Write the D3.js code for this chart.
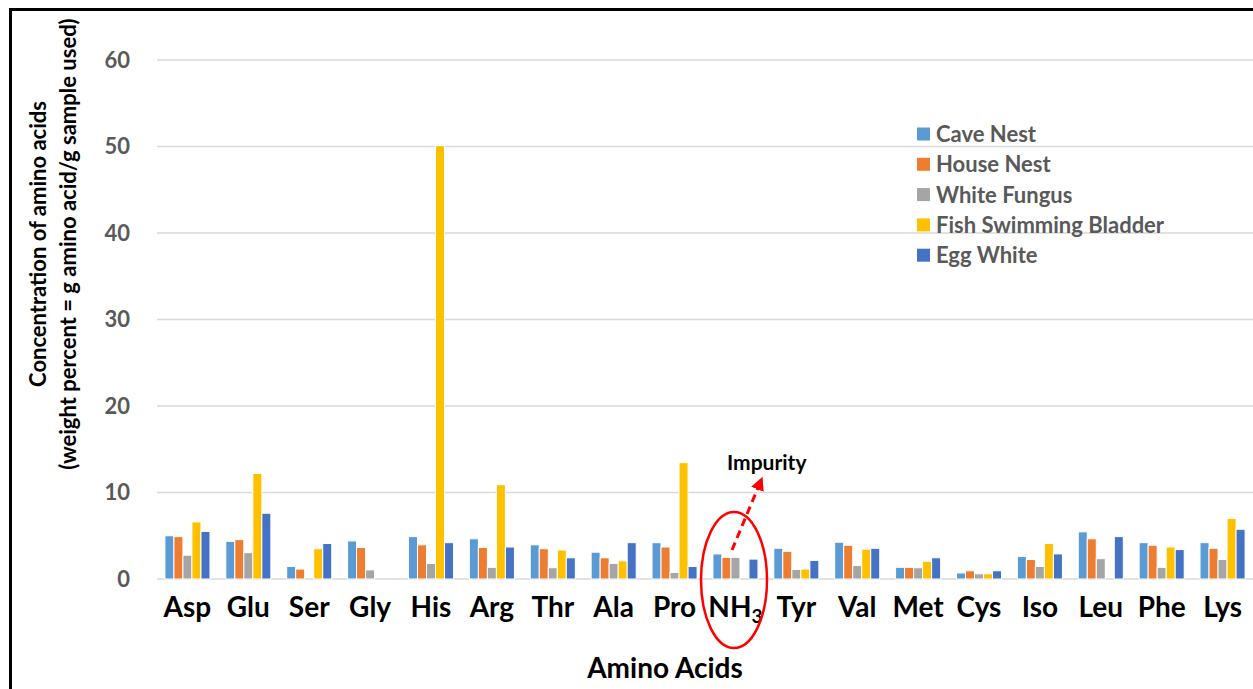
<!DOCTYPE html>
<html>
<head>
<meta charset="utf-8">
<script src="https://cdn.jsdelivr.net/npm/d3@7"></script>
<style>
  body { margin: 0; background: #fff; }
  svg { display: block; font-family: Lato, 'Open Sans', sans-serif; font-weight: bold; }
</style>
</head>
<body>
<svg width="1253" height="689"></svg>
<script>
(function (d3) {
    'use strict';

    var categories = ['Asp', 'Glu', 'Ser', 'Gly', 'His', 'Arg', 'Thr', 'Ala', 'Pro', 'NH3',
        'Tyr', 'Val', 'Met', 'Cys', 'Iso', 'Leu', 'Phe', 'Lys'];
    var seriesNames = ['Cave Nest', 'House Nest', 'White Fungus', 'Fish Swimming Bladder', 'Egg White'];
    var caveNest = [5.0, 4.35, 1.45, 4.4, 4.9, 4.65, 3.95, 3.1, 4.2, 2.9, 3.55, 4.25, 1.35, 0.7, 2.6, 5.45, 4.2, 4.2];
    var houseNest = [4.9, 4.55, 1.15, 3.65, 3.95, 3.65, 3.5, 2.45, 3.7, 2.5, 3.2, 3.9, 1.35, 0.95, 2.25, 4.65, 3.9, 3.55];
    var whiteFungus = [2.75, 3.05, 0, 1.05, 1.8, 1.35, 1.3, 1.8, 0.75, 2.5, 1.1, 1.55, 1.3, 0.6, 1.45, 2.35, 1.35, 2.25];
    var fishBladder = [6.6, 12.2, 3.5, 0, 50.1, 10.9, 3.35, 2.1, 13.45, 0, 1.15, 3.45, 2.05, 0.6, 4.1, 0, 3.7, 7.0];
    var eggWhite = [5.5, 7.6, 4.1, 0, 4.2, 3.7, 2.45, 4.2, 1.45, 2.3, 2.15, 3.55, 2.45, 0.95, 2.9, 4.9, 3.4, 5.75];
    var yTicks = [0, 10, 20, 30, 40, 50, 60];

    var colors = ['#5B9BD5', '#ED7D31', '#A5A5A5', '#FFC000', '#4472C4'];
    var allSeries = [caveNest, houseNest, whiteFungus, fishBladder, eggWhite];

    var svg = d3.select('svg');

    var x0 = d3.scaleBand().domain(categories).range([157, 1253])
        .paddingInner(0.26).paddingOuter(0.13);
    var x1 = d3.scaleBand().domain(seriesNames).range([0, x0.bandwidth()]);
    var y = d3.scaleLinear().domain([0, 60]).range([579, 60]);
    var z = d3.scaleOrdinal().domain(seriesNames).range(colors);

    // frame, top and left only
    svg.append('path')
        .attr('d', 'M10.5,689V9.5H1253')
        .attr('fill', 'none')
        .attr('stroke', '#000')
        .attr('stroke-width', 3);

    // gridlines
    svg.append('g').selectAll('line')
        .data(yTicks)
        .enter().append('line')
        .attr('x1', 157).attr('x2', 1253)
        .attr('y1', function (d) { return y(d); })
        .attr('y2', function (d) { return y(d); })
        .attr('stroke', '#d9d9d9')
        .attr('stroke-width', 1.5);

    svg.append('g').selectAll('text')
        .data(yTicks)
        .enter().append('text')
        .attr('x', 130)
        .attr('y', function (d) { return y(d); })
        .attr('dy', '0.36em')
        .attr('text-anchor', 'end')
        .attr('fill', '#595959')
        .style('font-size', '22px')
        .text(function (d) { return d; });

    // bars
    var rows = categories.map(function (c, i) {
        return seriesNames.map(function (s, j) {
            return { cat: c, key: s, value: allSeries[j][i] };
        });
    });

    svg.append('g').selectAll('g')
        .data(rows)
        .enter().append('g')
        .attr('transform', function (d) { return 'translate(' + x0(d[0].cat) + ',0)'; })
        .selectAll('rect')
        .data(function (d) { return d.filter(function (b) { return b.value > 0; }); })
        .enter().append('rect')
        .attr('x', function (d) { return x1(d.key); })
        .attr('y', function (d) { return y(d.value); })
        .attr('width', x1.bandwidth())
        .attr('height', function (d) { return y(0) - y(d.value); })
        .attr('fill', function (d) { return z(d.key); })
        .attr('stroke', '#fff')
        .attr('stroke-width', 1);

    // x axis labels
    var xAxis = svg.append('g')
        .attr('transform', 'translate(0,579)')
        .call(d3.axisBottom(x0).tickSize(0).tickPadding(18));
    xAxis.select('.domain').remove();
    xAxis.selectAll('text')
        .attr('fill', '#000')
        .style('font-size', '28px')
        .style('font-family', 'Lato, sans-serif')
        .style('font-weight', 'bold')
        .each(function (d) {
            if (d === 'NH3') {
                var t = d3.select(this).text('NH');
                t.append('tspan').attr('dy', '0.3em').style('font-size', '19px').text('3');
            }
        });

    // axis titles
    svg.append('text')
        .attr('x', 665).attr('y', 678)
        .attr('text-anchor', 'middle')
        .style('font-size', '28px')
        .text('Amino Acids');

    var yTitle = svg.append('text')
        .attr('transform', 'translate(0,244) rotate(-90)')
        .attr('text-anchor', 'middle')
        .style('font-size', '22px');
    yTitle.append('tspan').attr('x', 0).attr('y', 46).text('Concentration of amino acids');
    yTitle.append('tspan').attr('x', 0).attr('y', 76).text('(weight percent = g amino acid/g sample used)');

    // legend
    var legend = svg.selectAll('.legend')
        .data(seriesNames)
        .enter().append('g')
        .attr('class', 'legend')
        .attr('transform', function (d, i) { return 'translate(917,' + (134 + i * 30.3) + ')'; });

    legend.append('rect')
        .attr('y', -6.5)
        .attr('width', 13)
        .attr('height', 13)
        .attr('fill', z);

    legend.append('text')
        .attr('x', 19)
        .attr('dy', '0.36em')
        .attr('fill', '#595959')
        .style('font-size', '22px')
        .text(function (d) { return d; });

    // impurity annotation
    svg.append('defs').append('marker')
        .attr('id', 'head')
        .attr('viewBox', '0 0 10 10')
        .attr('refX', 5).attr('refY', 5)
        .attr('markerWidth', 4.5).attr('markerHeight', 4.5)
        .attr('orient', 'auto')
        .append('path')
        .attr('d', 'M0,0L10,5L0,10Z')
        .attr('fill', '#ff0000');

    svg.append('ellipse')
        .attr('cx', 734).attr('cy', 580)
        .attr('rx', 33).attr('ry', 68)
        .attr('fill', 'none')
        .attr('stroke', '#ff0000')
        .attr('stroke-width', 2.5);

    svg.append('line')
        .attr('x1', 732).attr('y1', 550)
        .attr('x2', 760).attr('y2', 483)
        .attr('stroke', '#ff0000')
        .attr('stroke-width', 3)
        .attr('stroke-dasharray', '8,5')
        .attr('marker-end', 'url(#head)');

    svg.append('text')
        .attr('x', 727).attr('y', 470)
        .attr('fill', '#000')
        .style('font-size', '21px')
        .text('Impurity');
})(window.d3);
</script>
</body>
</html>
